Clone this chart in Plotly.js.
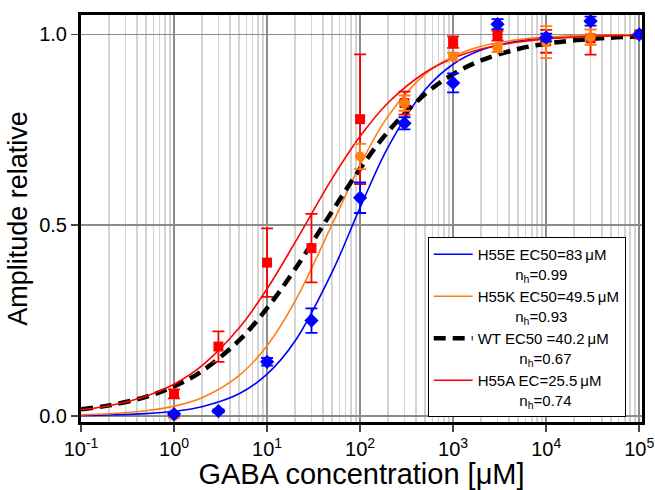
<!DOCTYPE html>
<html>
<head>
<meta charset="utf-8">
<script src="https://cdn.plot.ly/plotly-3.0.1.min.js"></script>
<style>html,body{margin:0;padding:0;background:#fff;}#chart{width:655px;height:490px;}</style>
</head>
<body>
<div id="chart"></div>
<script>
// ---- data ----
const fitConc = [0.1, 0.2, 0.5, 1, 2, 5, 10, 20, 50, 100, 200, 500, 1000, 2000, 5000, 10000, 20000, 50000, 100000];
const fitH55E = [0.0013, 0.0026, 0.0063, 0.0124, 0.0244, 0.0583, 0.1096, 0.1964, 0.377, 0.546, 0.705, 0.855, 0.922, 0.959, 0.983, 0.991, 0.9956, 0.9982, 0.9991];
const fitH55K = [0.0031, 0.0059, 0.0137, 0.0259, 0.0481, 0.106, 0.1843, 0.301, 0.502, 0.658, 0.786, 0.896, 0.942, 0.969, 0.9865, 0.9929, 0.9962, 0.9984, 0.9992];
const fitWT   = [0.0177, 0.0278, 0.0503, 0.0776, 0.118, 0.198, 0.2825, 0.385, 0.5365, 0.648, 0.7455, 0.844, 0.896, 0.932, 0.962, 0.9758, 0.9846, 0.9916, 0.9947];
const fitH55A = [0.0163, 0.0269, 0.0517, 0.0834, 0.132, 0.2305, 0.3334, 0.455, 0.622, 0.733, 0.821, 0.9004, 0.9379, 0.9619, 0.9803, 0.9881, 0.9928, 0.9964, 0.9978];

const conc = [1, 3, 10, 30, 100, 300, 1000, 3000, 10000, 30000, 100000];
const h55eMean = [0.005, 0.013, 0.142, 0.25, 0.572, 0.767, 0.873, 1.027, 0.992, 1.035, 1.0];
const h55eErr  = [0.004, 0.004, 0.01, 0.032, 0.04, 0.016, 0.025, 0.013, 0.01, 0.012, 0.0];
const h55aMean = [0.058, 0.182, 0.402, 0.44, 0.778, 0.82, 0.98, 0.997, 0.982, 0.99, 1.0];
const h55aErr  = [0.012, 0.04, 0.09, 0.09, 0.17, 0.03, 0.015, 0.013, 0.03, 0.043, 0.0];
const concK = [1, 100, 300, 1000, 3000, 10000, 30000, 100000];
const h55kMean = [0.0, 0.68, 0.82, 0.942, 0.964, 0.98, 0.993, 1.0];
const h55kErr  = [0.005, 0.033, 0.02, 0.01, 0.01, 0.042, 0.02, 0.0];

const xTickVals = [0.1, 1, 10, 100, 1000, 10000, 100000];
const xTickText = ['10<sup>-1</sup>', '10<sup>0</sup>', '10<sup>1</sup>', '10<sup>2</sup>', '10<sup>3</sup>', '10<sup>4</sup>', '10<sup>5</sup>'];
const yTickVals = [0, 0.5, 1.0];
const yTickText = ['0.0', '0.5', '1.0'];

const legendNames = [
  'H55E EC50=83\u2009\u03bcM',
  'H55K EC50=49.5\u2009\u03bcM',
  'WT EC50 =40.2\u2009\u03bcM',
  'H55A EC=25.5\u2009\u03bcM'
];
const hillCoefs = ['0.99', '0.93', '0.67', '0.74'];
// ---------------------------------------------

const BLUE = '#0000ff', ORANGE = '#ff7f0e', RED = '#ff0000', BLACK = '#000000';
const pad = n => '\u00a0'.repeat(n);
const padCounts = [9, 9, 10, 10];
const nm = i => legendNames[i] + '<br>' + pad(padCounts[i]) + 'n<sub>h</sub>=' + hillCoefs[i];

function fit(y, color, width, dash, i) {
  return {x: fitConc, y: y, type: 'scatter', mode: 'lines', name: nm(i),
    line: {color: color, width: width, dash: dash, shape: 'spline'}, hoverinfo: 'skip'};
}
function pts(x, y, e, color, symbol, size) {
  return {x: x, y: y, type: 'scatter', mode: 'markers', showlegend: false,
    marker: {color: color, symbol: symbol, size: size, line: {width: 0}},
    error_y: {type: 'data', array: e, visible: true, color: color, thickness: 1.8, width: 6}};
}

const traces = [
  fit(fitH55E, BLUE, 1.6, 'solid', 0),
  fit(fitH55K, ORANGE, 1.6, 'solid', 1),
  fit(fitWT, BLACK, 4.5, '12px,7px', 2),
  fit(fitH55A, RED, 1.6, 'solid', 3),
  pts(conc, h55aMean, h55aErr, RED, 'square', 10),
  pts(concK, h55kMean, h55kErr, ORANGE, 'circle', 10),
  pts(conc, h55eMean, h55eErr, BLUE, 'diamond', 11)
];

const layout = {
  width: 655, height: 490,
  margin: {l: 81, r: 13, t: 15, b: 68},
  paper_bgcolor: '#fff', plot_bgcolor: '#fff',
  font: {family: 'Liberation Sans, Arial, sans-serif', color: '#000'},
  showlegend: true,
  legend: {x: 0.618, y: 0.4545, xanchor: 'left', yanchor: 'top', bgcolor: '#fff',
    bordercolor: '#000', borderwidth: 1, font: {size: 15, color: '#000'}, valign: 'top',
    tracegroupgap: 0, itemwidth: 39, entrywidth: 203, entrywidthmode: 'pixels'},
  xaxis: {type: 'log', range: [-1, 5.03], tickvals: xTickVals, ticktext: xTickText,
    tickfont: {size: 20}, ticks: 'outside', ticklen: 7, tickwidth: 1.5, tickcolor: '#444',
    showgrid: true, gridcolor: '#8c8c8c', gridwidth: 1.5,
    minor: {dtick: 'D1', showgrid: true, gridcolor: '#d4d4d4', gridwidth: 1.5, ticks: ''},
    showline: true, linecolor: '#000', linewidth: 3, mirror: true, zeroline: false,
    title: {text: 'GABA concentration [\u03bcM]', font: {size: 29}, standoff: 7}},
  yaxis: {range: [-0.0157, 1.051], tickvals: yTickVals, ticktext: yTickText,
    tickfont: {size: 20}, ticks: 'outside', ticklen: 7, tickwidth: 1.5, tickcolor: '#444',
    showgrid: true, gridcolor: '#8c8c8c', gridwidth: 1.5, zeroline: false,
    showline: true, linecolor: '#000', linewidth: 3, mirror: true,
    title: {text: 'Amplitude relative', font: {size: 27}, standoff: 4}}
};

Plotly.newPlot('chart', traces, layout, {staticPlot: true, displayModeBar: false});
</script>
</body>
</html>
